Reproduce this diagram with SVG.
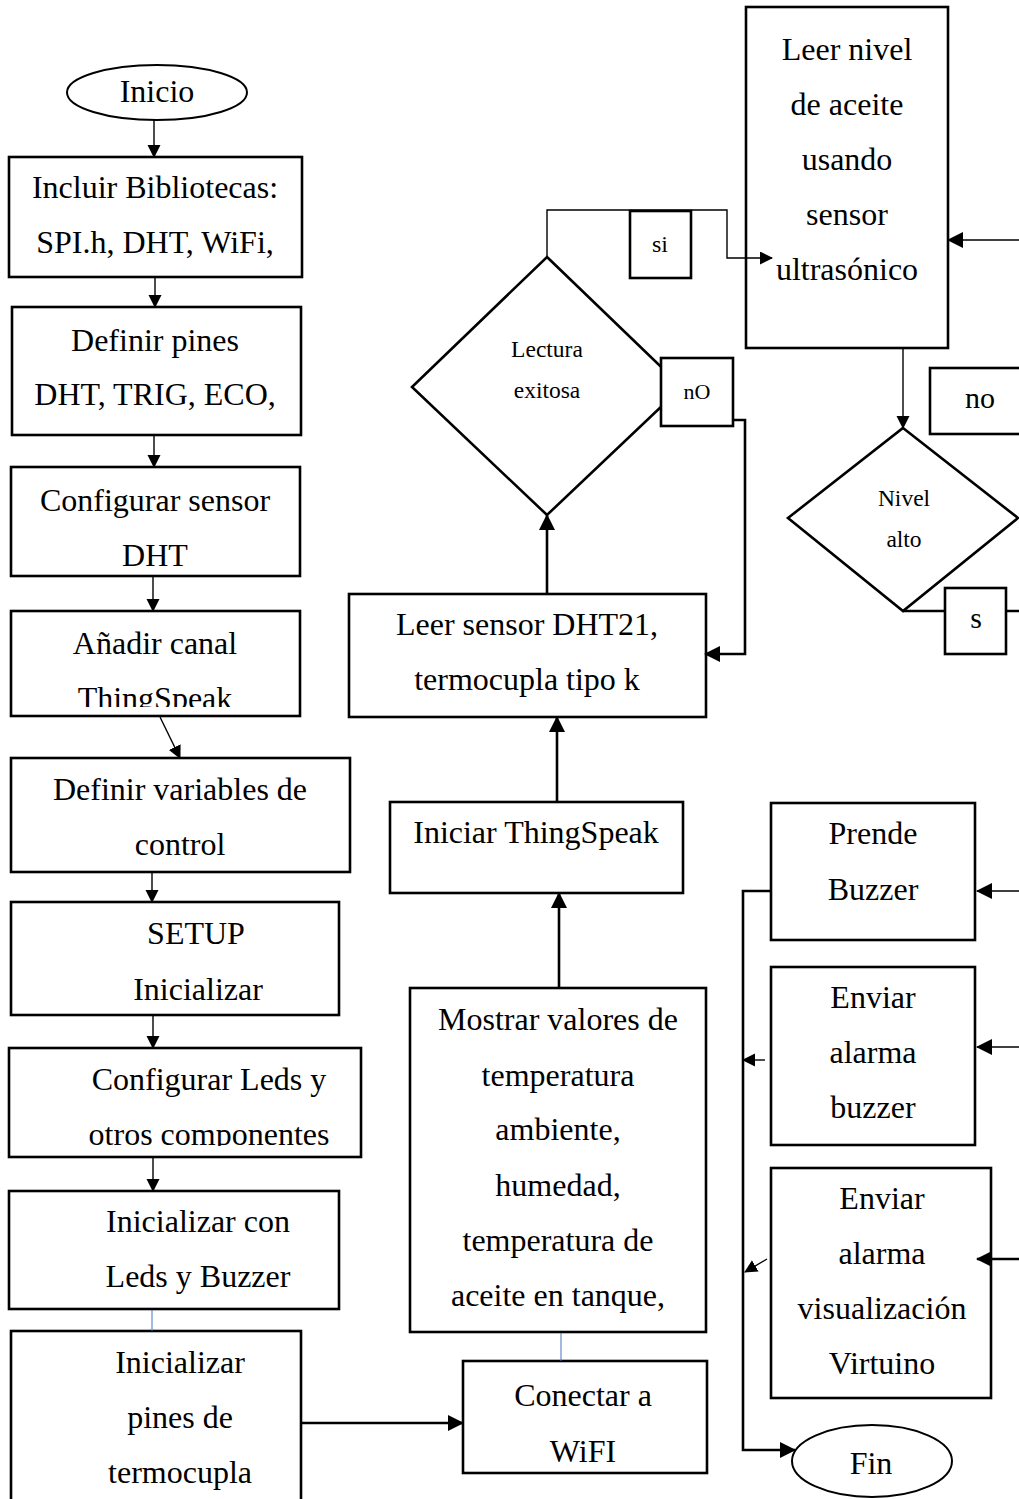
<svg xmlns="http://www.w3.org/2000/svg" width="1019" height="1499" viewBox="0 0 1019 1499">
<style>
.box{fill:#fff;stroke:#000;stroke-width:2.6}
.t{font-family:"Liberation Serif","Times New Roman",serif;font-size:32px;text-anchor:middle;fill:#000}
.ts{font-size:23.5px}
.c{fill:none;stroke:#000;stroke-width:1.4}
.ck{stroke-width:2.6}
.blue{fill:none;stroke:#4472c4;stroke-width:1}
</style>
<defs>
<marker id="ah" markerUnits="userSpaceOnUse" markerWidth="14" markerHeight="14" refX="12" refY="6.5" orient="auto"><path d="M0,0 L13,6.5 L0,13 z" fill="#000"/></marker>
<marker id="ahL" markerUnits="userSpaceOnUse" markerWidth="18" markerHeight="18" refX="15" refY="8" orient="auto"><path d="M0,0 L16,8 L0,16 z" fill="#000"/></marker>
<clipPath id="clip4"><rect x="11" y="611" width="289" height="96"/></clipPath>
<clipPath id="clip7"><rect x="9" y="1048" width="352" height="98"/></clipPath>
</defs>
<rect width="1019" height="1499" fill="#fff"/>

<g id="n-inicio"><ellipse class="box" cx="157" cy="92.5" rx="90" ry="27.5" style="stroke-width:2"/><text class="t" x="157" y="102">Inicio</text></g>
<g id="n-bibliotecas"><rect class="box" x="9" y="157" width="293" height="120"/><text class="t" x="155" y="198">Incluir Bibliotecas:</text><text class="t" x="155" y="253">SPI.h, DHT, WiFi,</text></g>
<g id="n-pines"><rect class="box" x="12" y="307" width="289" height="128"/><text class="t" x="155" y="351">Definir pines</text><text class="t" x="155" y="405">DHT, TRIG, ECO,</text></g>
<g id="n-dht"><rect class="box" x="11" y="467" width="289" height="109"/><text class="t" x="155" y="511">Configurar sensor</text><text class="t" x="155" y="566">DHT</text></g>
<g id="n-canal"><rect class="box" x="11" y="611" width="289" height="105"/><g clip-path="url(#clip4)"><text class="t" x="155" y="654">Añadir canal</text><text class="t" x="155" y="709">ThingSpeak</text></g></g>
<g id="n-variables"><rect class="box" x="11" y="758" width="339" height="114"/><text class="t" x="180" y="800">Definir variables de</text><text class="t" x="180" y="855">control</text></g>
<g id="n-setup"><rect class="box" x="11" y="902" width="328" height="113"/><text class="t" x="196" y="944">SETUP</text><text class="t" x="198" y="1000">Inicializar</text></g>
<g id="n-leds"><rect class="box" x="9" y="1048" width="352" height="109"/><g clip-path="url(#clip7)"><text class="t" x="209" y="1090">Configurar Leds y</text><text class="t" x="209" y="1145">otros componentes</text></g></g>
<g id="n-buzzer"><rect class="box" x="9" y="1191" width="330" height="118"/><text class="t" x="198" y="1232">Inicializar con</text><text class="t" x="198" y="1287">Leds y Buzzer</text></g>
<g id="n-termocupla"><rect class="box" x="11" y="1331" width="290" height="200"/><text class="t" x="180" y="1373">Inicializar</text><text class="t" x="180" y="1428">pines de</text><text class="t" x="180" y="1483">termocupla</text></g>
<g id="n-wifi"><rect class="box" x="463" y="1361" width="244" height="112"/><text class="t" x="583" y="1406">Conectar a</text><text class="t" x="583" y="1462">WiFI</text></g>
<g id="n-mostrar"><rect class="box" x="410" y="988" width="296" height="344"/><text class="t" x="558" y="1030">Mostrar valores de</text><text class="t" x="558" y="1086">temperatura</text><text class="t" x="558" y="1140">ambiente,</text><text class="t" x="558" y="1196">humedad,</text><text class="t" x="558" y="1251">temperatura de</text><text class="t" x="558" y="1306">aceite en tanque,</text></g>
<g id="n-iniciar-ts"><rect class="box" x="390" y="802" width="293" height="91"/><text class="t" x="536" y="843">Iniciar ThingSpeak</text></g>
<g id="n-leer-dht"><rect class="box" x="349" y="594" width="357" height="123"/><text class="t" x="527" y="635">Leer sensor DHT21,</text><text class="t" x="527" y="690">termocupla tipo k</text></g>
<g id="n-lectura"><polygon class="box" points="547,257 682,387 547,515 412,387"/><text class="t ts" x="547" y="357">Lectura</text><text class="t ts" x="547" y="398">exitosa</text></g>
<g id="n-leer-nivel"><rect class="box" x="746" y="7" width="202" height="341"/><text class="t" x="847" y="60">Leer nivel</text><text class="t" x="847" y="115">de aceite</text><text class="t" x="847" y="170">usando</text><text class="t" x="847" y="225">sensor</text><text class="t" x="847" y="280">ultrasónico</text></g>
<g id="n-nivel-alto"><polygon class="box" points="903,428 1018,518 903,611 788,518"/><text class="t ts" x="904" y="506">Nivel</text><text class="t ts" x="904" y="547">alto</text></g>
<g id="n-prende"><rect class="box" x="771" y="803" width="204" height="137"/><text class="t" x="873" y="844">Prende</text><text class="t" x="873" y="900">Buzzer</text></g>
<g id="n-alarma-buzzer"><rect class="box" x="771" y="967" width="204" height="178"/><text class="t" x="873" y="1008">Enviar</text><text class="t" x="873" y="1063">alarma</text><text class="t" x="873" y="1118">buzzer</text></g>
<g id="n-alarma-virtuino"><rect class="box" x="771" y="1168" width="220" height="230"/><text class="t" x="882" y="1209">Enviar</text><text class="t" x="882" y="1264">alarma</text><text class="t" x="882" y="1319">visualización</text><text class="t" x="882" y="1374">Virtuino</text></g>
<g id="n-fin"><ellipse class="box" cx="872" cy="1461" rx="80" ry="36" style="stroke-width:2"/><text class="t" x="871" y="1474">Fin</text></g>

<g id="connectors">
<path class="c" d="M154,120 V157" marker-end="url(#ah)"/>
<path class="c" d="M155,277 V307" marker-end="url(#ah)"/>
<path class="c" d="M154,435 V467" marker-end="url(#ah)"/>
<path class="c" d="M153,576 V611" marker-end="url(#ah)"/>
<path class="c" d="M160,717 L180,758" marker-end="url(#ah)"/>
<path class="c" d="M152,872 V902" marker-end="url(#ah)"/>
<path class="c" d="M153,1015 V1048" marker-end="url(#ah)"/>
<path class="c" d="M153,1157 V1191" marker-end="url(#ah)"/>
<path class="blue" d="M152,1310 V1331"/>
<path class="c ck" d="M301,1423 H463" marker-end="url(#ahL)"/>
<path class="blue" d="M561,1333 V1361"/>
<path class="c ck" d="M559,987 V893" marker-end="url(#ahL)"/>
<path class="c ck" d="M557,802 V717" marker-end="url(#ahL)"/>
<path class="c ck" d="M547,594 V515" marker-end="url(#ahL)"/>
<path class="c" d="M547,257 V210 H727 V258 H772" marker-end="url(#ah)"/>
<path class="c ck" d="M733,420 H745 V654 H705" marker-end="url(#ahL)"/>
<path class="c" d="M903,348 V428" marker-end="url(#ah)"/>
<path class="c" d="M1019,240 H948" marker-end="url(#ahL)"/>
<path class="c ck" d="M903,611 H1019"/>
<path class="c" d="M1019,891 H977" marker-end="url(#ahL)"/>
<path class="c" d="M1019,1047 H977" marker-end="url(#ahL)"/>
<path class="c ck" d="M1019,1259 H977" marker-end="url(#ahL)"/>
<path class="c ck" d="M771,891 H743 V1450 H795" marker-end="url(#ahL)"/>
<path class="c" d="M765,1060 H743" marker-end="url(#ah)"/>
<path class="c" d="M767,1259 L745,1272" marker-end="url(#ah)"/>
</g>

<g id="lbl-si"><rect class="box" x="630" y="211" width="61" height="67"/><text class="t" x="660" y="252" style="font-size:24px">si</text></g>
<g id="lbl-no1"><rect class="box" x="661" y="358" width="72" height="68"/><text class="t" x="697" y="399" style="font-size:22px">nO</text></g>
<g id="lbl-no2"><rect class="box" x="930" y="368" width="100" height="66"/><text class="t" x="980" y="408" style="font-size:30px">no</text></g>
<g id="lbl-s"><rect class="box" x="945" y="588" width="61" height="66"/><text class="t" x="976" y="628" style="font-size:30px">s</text></g>
</svg>
